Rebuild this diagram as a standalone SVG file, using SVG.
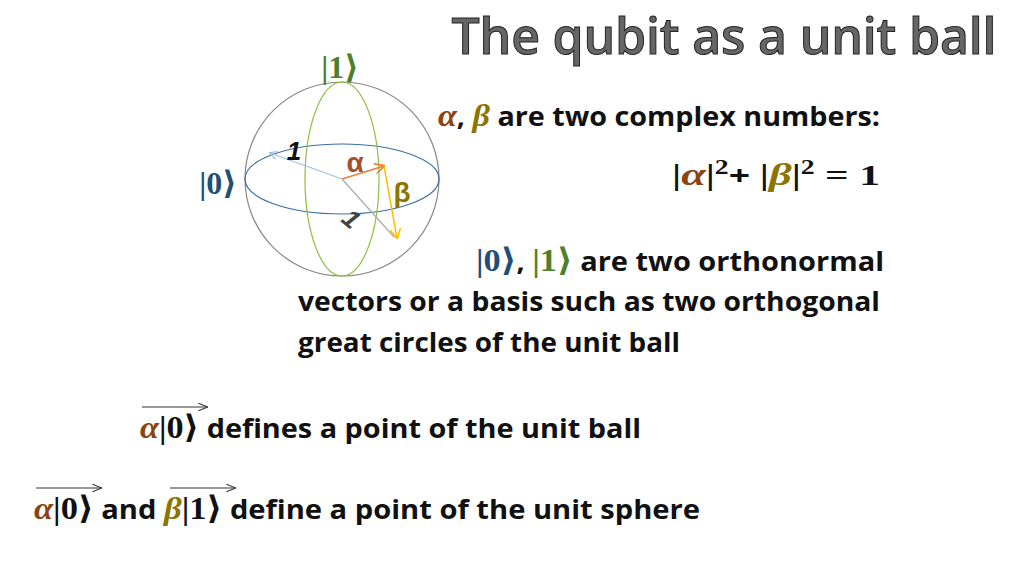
<svg xmlns="http://www.w3.org/2000/svg" width="1024" height="576" viewBox="0 0 1024 576">
<defs>
<style>
.t{font-family:"Open Sans","Liberation Sans",sans-serif;font-weight:bold;font-size:27px;fill:#111}
.m{font-family:"Liberation Serif","DejaVu Serif",serif;font-weight:bold}
.a{fill:#8B4513;font-style:italic}
.b{fill:#8B7500;font-style:italic}
</style>
<marker id="ah" viewBox="0 0 10 10" refX="9" refY="5" markerWidth="7" markerHeight="7" orient="auto"><path d="M0,0 L10,5 L0,10" fill="none" stroke="context-stroke" stroke-width="1.5"/></marker>
<marker id="vh" viewBox="0 0 10 10" refX="10" refY="5" markerWidth="8" markerHeight="8" orient="auto"><path d="M0,1 L10,5 L0,9" fill="none" stroke="#333" stroke-width="1.2"/></marker>
</defs>
<rect width="1024" height="576" fill="#fff"/>
<text x="724" y="54" text-anchor="middle" font-family="Open Sans,Liberation Sans,sans-serif" font-weight="600" font-size="50" fill="#666" stroke="#222" stroke-width="1" textLength="545">The qubit as a unit ball</text>
<g id="sphere">
<circle cx="342" cy="179" r="97" fill="none" stroke="#888" stroke-width="1.2"/>
<ellipse cx="342" cy="179" rx="97" ry="35" fill="none" stroke="#3a6ea5" stroke-width="1.2"/>
<ellipse cx="342" cy="179" rx="37" ry="97" fill="none" stroke="#8cbf40" stroke-width="1.2"/>
</g>
<g id="connectors">
<line x1="342" y1="179" x2="270" y2="153" stroke="#9cc3e6" stroke-width="1.2" marker-end="url(#ah)"/>
<line x1="342" y1="179" x2="384" y2="166" stroke="#ed7d31" stroke-width="1.5" marker-end="url(#ah)"/>
<line x1="384" y1="166" x2="397" y2="238" stroke="#ffc000" stroke-width="1.5" marker-end="url(#ah)"/>
<line x1="342" y1="179" x2="394" y2="237" stroke="#aaa" stroke-width="1.2"/>
</g>
<g id="labels">
<text x="340" y="78" text-anchor="middle" class="m" font-size="32" fill="#4e7f2e">|1⟩</text>
<text x="218" y="194" text-anchor="middle" class="m" font-size="32" fill="#1f4e79">|0⟩</text>
<text x="294" y="160" text-anchor="middle" font-family="Liberation Sans,sans-serif" font-weight="bold" font-size="26" font-style="italic" fill="#111">1</text>
<text x="352" y="228" text-anchor="middle" font-family="Liberation Sans,sans-serif" font-weight="bold" font-size="26" font-style="italic" fill="#444" transform="rotate(40 352 218)">1</text>
<text x="355" y="172" text-anchor="middle" font-family="Liberation Sans,sans-serif" font-weight="bold" font-size="28" fill="#a0522d">α</text>
<text x="402" y="202" text-anchor="middle" font-family="Liberation Sans,sans-serif" font-weight="bold" font-size="28" fill="#8B7500">β</text>
</g>
<g id="text">
<text x="438" y="126" class="t" textLength="442" lengthAdjust="spacingAndGlyphs"><tspan class="m a" font-size="32">α</tspan>, <tspan class="m b" font-size="32">β</tspan> are two complex numbers:</text>
<text x="672" y="185" class="t" textLength="208" lengthAdjust="spacingAndGlyphs"><tspan class="m" font-size="30">|</tspan><tspan class="m a" font-size="32">α</tspan><tspan class="m" font-size="30">|</tspan><tspan class="m" font-size="20" dy="-11">2</tspan><tspan dy="11">+ </tspan><tspan class="m" font-size="30">|</tspan><tspan class="m b" font-size="32">β</tspan><tspan class="m" font-size="30">|</tspan><tspan class="m" font-size="20" dy="-11">2</tspan><tspan class="m" font-size="30" dy="11"> = 1</tspan></text>
<text x="476" y="271" class="t" textLength="408" lengthAdjust="spacingAndGlyphs"><tspan class="m" font-size="32" fill="#1f4e79">|0⟩</tspan>, <tspan class="m" font-size="32" fill="#4e7f2e">|1⟩</tspan> are two orthonormal</text>
<text x="298" y="311" class="t" textLength="582" lengthAdjust="spacingAndGlyphs">vectors or a basis such as two orthogonal</text>
<text x="298" y="352" class="t" textLength="382" lengthAdjust="spacingAndGlyphs">great circles of the unit ball</text>
<line x1="142" y1="407" x2="208" y2="407" stroke="#333" stroke-width="1.2" marker-end="url(#vh)"/>
<text x="140" y="438" class="t" textLength="501" lengthAdjust="spacingAndGlyphs"><tspan class="m a" font-size="32">α</tspan><tspan class="m" font-size="32">|0⟩</tspan> defines a point of the unit ball</text>
<line x1="36" y1="488" x2="102" y2="488" stroke="#333" stroke-width="1.2" marker-end="url(#vh)"/>
<line x1="170" y1="488" x2="236" y2="488" stroke="#333" stroke-width="1.2" marker-end="url(#vh)"/>
<text x="34" y="519" class="t" textLength="666" lengthAdjust="spacingAndGlyphs"><tspan class="m a" font-size="32">α</tspan><tspan class="m" font-size="32">|0⟩</tspan> and <tspan class="m b" font-size="32">β</tspan><tspan class="m" font-size="32">|1⟩</tspan> define a point of the unit sphere</text>
</g>
</svg>
